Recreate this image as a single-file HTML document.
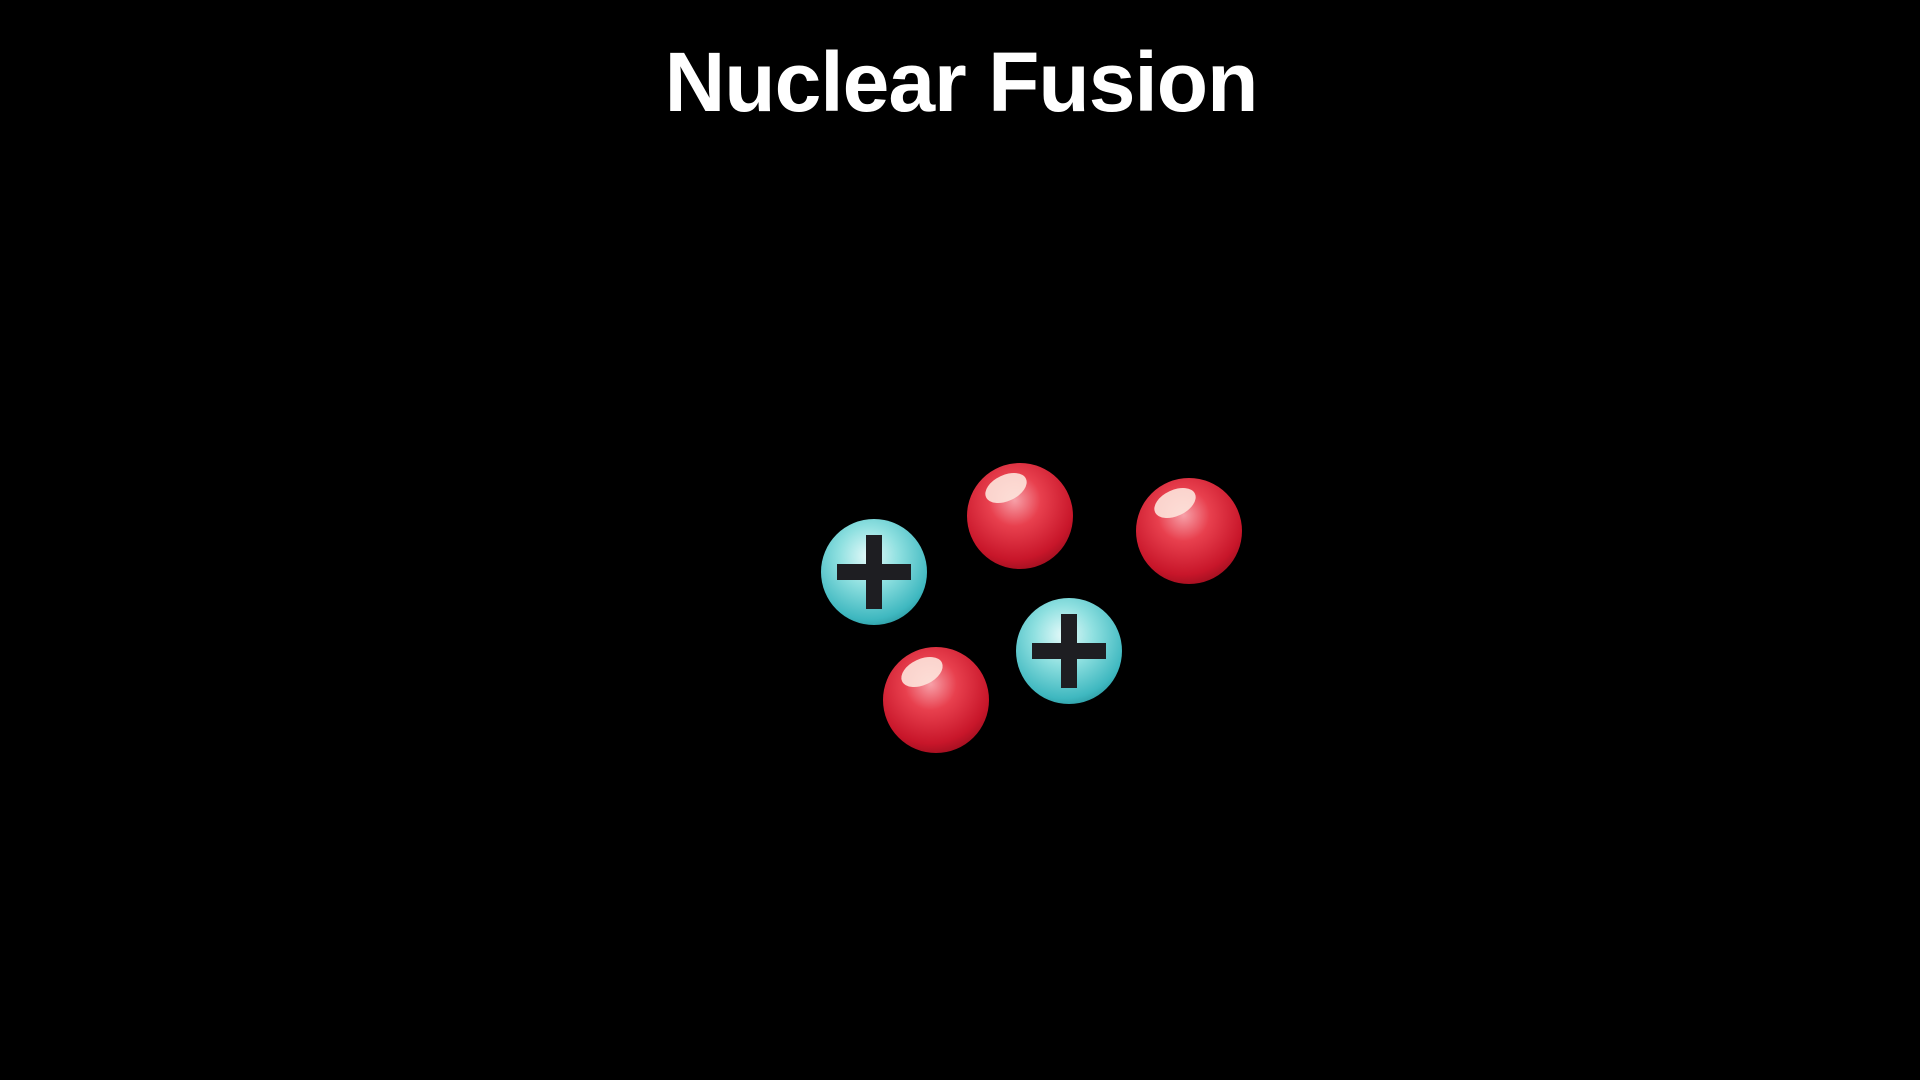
<!DOCTYPE html>
<html><head><style>
html,body{margin:0;padding:0;background:#000;width:1920px;height:1080px;overflow:hidden}
h1{position:absolute;left:0;top:34px;width:1922px;text-align:center;margin:0;color:#fff;font-family:"Liberation Sans",sans-serif;font-weight:bold;font-size:84px;letter-spacing:-1px}
</style></head><body>
<h1>Nuclear Fusion</h1>
<svg width="1920" height="1080" style="position:absolute;left:0;top:0">
<defs>
<radialGradient id="r" cx="0.45" cy="0.35" r="0.7">
<stop offset="0" stop-color="#f7a0a8"/><stop offset="0.35" stop-color="#e8404e"/><stop offset="0.8" stop-color="#c8162a"/><stop offset="1" stop-color="#9a0e1e"/></radialGradient>
<radialGradient id="c" cx="0.45" cy="0.35" r="0.7">
<stop offset="0" stop-color="#e6fafa"/><stop offset="0.4" stop-color="#8fe0e0"/><stop offset="0.85" stop-color="#3fb8c0"/><stop offset="1" stop-color="#2a98a0"/></radialGradient>
<g id="red"><circle r="53" fill="url(#r)"/><ellipse cx="-14" cy="-28" rx="22" ry="13" fill="#fde4dc" opacity="0.9" transform="rotate(-25 -14 -28)"/></g>
<g id="cy"><circle r="53" fill="url(#c)"/><rect x="-37" y="-8" width="74" height="16" fill="#1e1e22"/><rect x="-8" y="-37" width="16" height="74" fill="#1e1e22"/></g>
</defs>
<use href="#cy" x="874" y="572"/>
<use href="#red" x="1020" y="516"/>
<use href="#red" x="1189" y="531"/>
<use href="#cy" x="1069" y="651"/>
<use href="#red" x="936" y="700"/>
</svg>
</body></html>
